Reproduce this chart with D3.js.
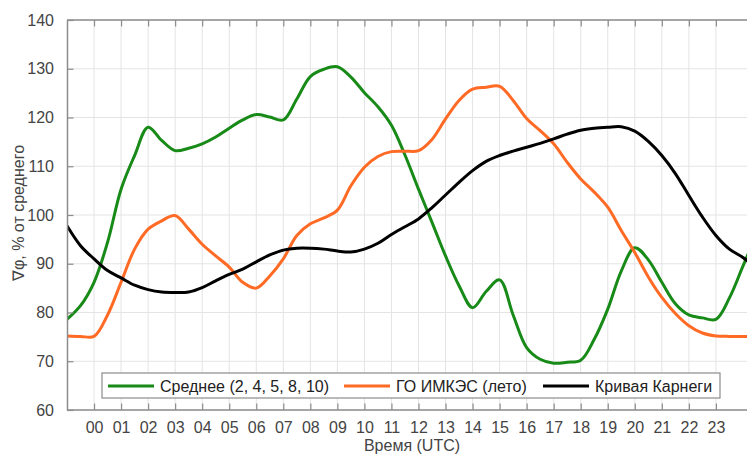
<!DOCTYPE html>
<html><head><meta charset="utf-8">
<script src="https://cdn.jsdelivr.net/npm/d3@7"></script>
<style>
html,body{margin:0;padding:0;background:#fff;}
svg{display:block;font-family:"Liberation Sans",Arial,sans-serif;}
</style></head>
<body>
<svg id="c" width="747" height="455"></svg>
<script>
// ---- data ----
const hours = d3.range(-1, 24.51, 0.5);
const seriesNames = ["Среднее (2, 4, 5, 8, 10)", "ГО ИМКЭС (лето)", "Кривая Карнеги"];
const meanValues = [78.6,81.4,86.2,94.4,105.3,112.2,118.0,115.3,113.2,113.7,114.6,116,117.8,119.5,120.6,120.1,119.5,123.8,128.4,129.9,130.4,128.3,125.1,122.2,118.4,112.3,105.3,98.5,91.6,85.5,81,84.3,86.7,79.5,72.8,70.4,69.6,69.8,70.2,74.5,80.7,88.5,93.3,90.8,86.2,81.8,79.5,78.9,78.6,83,89.5,96];
const imkesValues = [75.2,75.1,75.1,79.5,86.2,93,97.1,98.8,99.9,97.1,94,91.6,89.3,86.2,85,87.5,91,95.8,98.2,99.4,101,106,109.8,112,113,113.1,113.2,115.5,119.7,123.5,125.8,126.2,126.4,123.5,119.8,117.3,114.6,110.8,107.4,104.7,101.6,96.8,92.3,87.3,83.1,79.8,77.3,75.8,75.2,75.1,75.1,75.1];
const carnegieValues = [97.8,93.7,91,88.6,87.1,85.6,84.7,84.2,84.1,84.2,85.1,86.5,87.8,88.9,90.4,91.8,92.8,93.2,93.2,93,92.6,92.4,93,94.2,96,97.6,99.2,101.5,104.1,106.7,109.1,111,112.2,113.1,113.9,114.7,115.6,116.6,117.4,117.8,118,118.1,117.2,115.1,112.2,108.5,104,99.6,95.8,93,91.3,89];
const xTickValues = d3.range(0, 24);
const xTickLabels = xTickValues.map(h => String(h).padStart(2, "0"));
const yTickValues = [60,70,80,90,100,110,120,130,140];
const colors = ["#178a17", "#ff6a25", "#000000"];

// ---- layout ----
const svg = d3.select("#c");
const L = 67, T = 20, B = 410, R = 747;
const x = d3.scaleLinear().domain([-1, 24.15]).range([L, R]);
const y = d3.scaleLinear().domain([60, 140]).range([B, T]);
const axisColor = "#8c8c8c", gridColor = "#e4e4e4", labelColor = "#444";

svg.append("defs").append("clipPath").attr("id","clip")
  .append("rect").attr("x",L).attr("y",T).attr("width",R-L).attr("height",B-T);

// grid
const g = svg.append("g");
g.selectAll(".vg").data(xTickValues).join("line")
  .attr("x1", d=>x(d)).attr("x2", d=>x(d)).attr("y1", T).attr("y2", B)
  .attr("stroke", gridColor).attr("stroke-width", 1);
g.selectAll(".hg").data(yTickValues).join("line")
  .attr("x1", L).attr("x2", R).attr("y1", d=>y(d)).attr("y2", d=>y(d))
  .attr("stroke", gridColor).attr("stroke-width", 1);

// lines
const allSeries = [meanValues, imkesValues, carnegieValues];
const line = d3.line().x((d,i)=>x(hours[i])).y(d=>y(d)).curve(d3.curveCatmullRom.alpha(0.5));
const lg = svg.append("g").attr("clip-path","url(#clip)");
allSeries.forEach((s, k) => {
  lg.append("path").datum(s).attr("d", line).attr("fill","none")
    .attr("stroke", colors[k]).attr("stroke-width", 3).attr("stroke-linejoin","round");
});

// axes
const bottomAxis = d3.axisBottom(x).tickValues(xTickValues).tickSizeInner(-6.5).tickSizeOuter(0)
  .tickPadding(11.6).tickFormat((d,i)=>xTickLabels[i]);
const ba = svg.append("g").attr("transform",`translate(0,${B})`).call(bottomAxis);
const topAxis = d3.axisTop(x).tickValues(xTickValues).tickSizeInner(-6.5).tickSizeOuter(0).tickFormat("");
const ta = svg.append("g").attr("transform",`translate(0,${T})`).call(topAxis);
const leftAxis = d3.axisLeft(y).tickValues(yTickValues).tickSizeInner(-6.5).tickSizeOuter(0).tickPadding(13);
const la = svg.append("g").attr("transform",`translate(${L},0)`).call(leftAxis);
[ba, ta, la].forEach(a => {
  a.select(".domain").attr("stroke", axisColor).attr("stroke-width", 1.5);
  a.selectAll(".tick line").attr("stroke", axisColor).attr("stroke-width", 1.2);
  a.selectAll("text").attr("fill", labelColor).style("font-size","16px");
});
ba.select(".domain").attr("d", `M${L},0H${R}`);
ta.select(".domain").attr("d", `M${L},0H${R}`);

// titles
svg.append("text").attr("x", 412).attr("y", 451.3).attr("text-anchor","middle")
  .attr("fill", labelColor).style("font-size","16px").text("Время (UTC)");
svg.append("text").attr("transform","translate(24,213) rotate(-90)").attr("text-anchor","middle")
  .attr("fill", labelColor).style("font-size","16px").text("∇φ, % от среднего");

// legend
const leg = svg.append("g");
leg.append("rect").attr("x",102).attr("y",373).attr("width",618).attr("height",25)
  .attr("fill","#fff").attr("stroke",axisColor).attr("stroke-width",1.2);
const legX = [108, 344, 543];
seriesNames.forEach((n, k) => {
  leg.append("line").attr("x1", legX[k]).attr("x2", legX[k]+46).attr("y1",386).attr("y2",386)
    .attr("stroke", colors[k]).attr("stroke-width",3);
  leg.append("text").attr("x", legX[k]+52).attr("y", 391.5).attr("fill","#222")
    .style("font-size","16px").text(n);
});
</script>
</body></html>
